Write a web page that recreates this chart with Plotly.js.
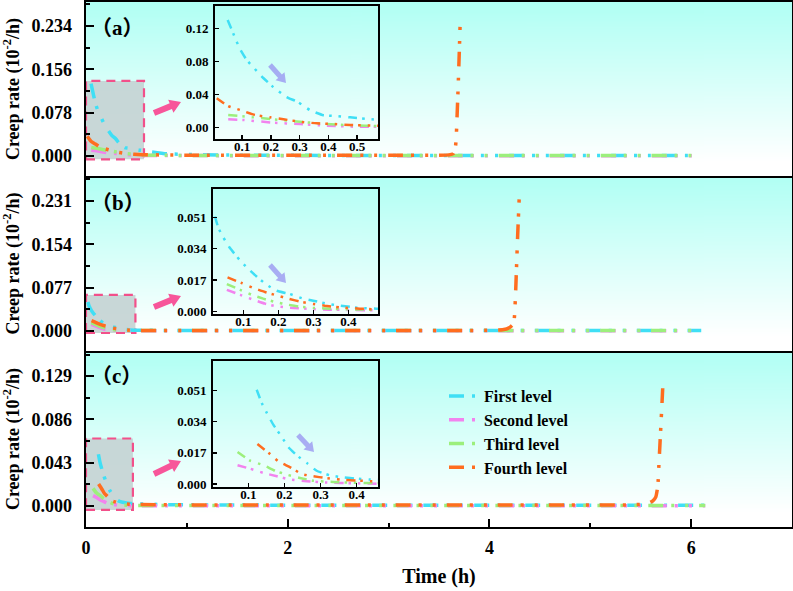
<!DOCTYPE html>
<html>
<head>
<meta charset="utf-8">
<script src="https://cdn.plot.ly/plotly-3.0.1.min.js"></script>
<style>
  html, body { margin: 0; padding: 0; background: #fff; }
  #chart { width: 793px; height: 591px; }
</style>
</head>
<body>
<div id="chart"></div>
<script>
// ---------------- Creep-rate data (time in h, rate in 10^-2/h) ----------------
const levelNames = ['First level', 'Second level', 'Third level', 'Fourth level'];

// Panel (a)
const timeA1 = [0.050, 0.073, 0.090, 0.116, 0.174, 0.209, 0.255, 0.294, 0.337, 0.383, 0.429, 0.476, 0.534, 0.8, 1.5, 2.5, 3.5, 4.5, 5.5, 6.06];
const rateA1 = [0.130, 0.111, 0.097, 0.082, 0.060, 0.049, 0.037, 0.031, 0.021, 0.015, 0.014, 0.0125, 0.0105, 0.004, 0.0015, 0.001, 0.001, 0.001, 0.001, 0.001];
const timeA2 = [0.052, 0.104, 0.209, 0.302, 0.394, 0.487, 0.8, 1.5, 2.5, 3.5, 4.5, 5.5, 6.06];
const rateA2 = [0.0101, 0.0093, 0.0060, 0.0044, 0.0024, 0.0012, 0.0008, 0.0006, 0.0005, 0.0005, 0.0005, 0.0005, 0.0005];
const timeA3 = [0.052, 0.116, 0.209, 0.302, 0.394, 0.487, 0.568, 0.8, 1.5, 2.5, 3.5, 4.5, 5.5, 6.06];
const rateA3 = [0.0153, 0.0133, 0.0101, 0.0072, 0.0044, 0.0028, 0.0020, 0.0012, 0.0008, 0.0007, 0.0007, 0.0007, 0.0007, 0.0007];
const timeA4 = [0.012, 0.052, 0.093, 0.145, 0.197, 0.244, 0.302, 0.360, 0.418, 0.476, 0.556, 1.0, 2.0, 3.0, 3.5, 3.60, 3.64, 3.66, 3.67, 3.68, 3.69, 3.70, 3.71];
const rateA4 = [0.0355, 0.026, 0.0214, 0.0153, 0.0125, 0.0101, 0.0072, 0.0052, 0.0044, 0.0032, 0.0024, 0.0015, 0.0012, 0.0012, 0.0014, 0.002, 0.004, 0.012, 0.03, 0.075, 0.125, 0.18, 0.24];

// Panel (b)
const timeB1 = [0.019, 0.029, 0.043, 0.062, 0.089, 0.110, 0.138, 0.167, 0.195, 0.233, 0.267, 0.300, 0.338, 0.376, 0.433, 0.481, 0.8, 1.5, 2.5, 3.5, 4.5, 5.5, 6.10];
const rateB1 = [0.0514, 0.0451, 0.0400, 0.0343, 0.0280, 0.0238, 0.0189, 0.0144, 0.0112, 0.0094, 0.0072, 0.0058, 0.0042, 0.0031, 0.0019, 0.0015, 0.0010, 0.0008, 0.0007, 0.0007, 0.0007, 0.0007, 0.0007];
const timeB2 = [0.053, 0.091, 0.129, 0.162, 0.195, 0.243, 0.300, 0.347, 0.405, 0.481, 0.8, 1.5, 2.5, 3.5, 4.5, 5.5, 6.10];
const rateB2 = [0.0117, 0.0090, 0.0063, 0.0042, 0.0027, 0.0019, 0.0013, 0.0009, 0.0008, 0.0006, 0.0005, 0.0005, 0.0005, 0.0005, 0.0005, 0.0005, 0.0005];
const timeB3 = [0.053, 0.091, 0.124, 0.157, 0.191, 0.229, 0.262, 0.300, 0.347, 0.405, 0.481, 0.8, 1.5, 2.5, 3.5, 4.5, 5.5, 6.10];
const rateB3 = [0.0148, 0.0117, 0.0090, 0.0069, 0.0051, 0.0036, 0.0025, 0.0019, 0.0015, 0.0011, 0.0009, 0.0007, 0.0007, 0.0007, 0.0007, 0.0007, 0.0007, 0.0007];
const timeB4 = [0.055, 0.095, 0.129, 0.162, 0.195, 0.229, 0.267, 0.300, 0.333, 0.376, 0.433, 0.481, 1.0, 2.0, 3.0, 4.0, 4.13, 4.20, 4.24, 4.25, 4.26, 4.27, 4.28, 4.295];
const rateB4 = [0.0184, 0.0154, 0.0127, 0.0105, 0.0087, 0.0069, 0.0051, 0.0040, 0.0031, 0.0022, 0.0015, 0.0011, 0.0010, 0.0009, 0.0009, 0.0012, 0.002, 0.006, 0.013, 0.03, 0.07, 0.12, 0.17, 0.235];

// Panel (c)
const timeC1 = [0.123, 0.137, 0.151, 0.169, 0.193, 0.211, 0.234, 0.262, 0.289, 0.326, 0.363, 0.400, 0.437, 0.8, 1.5, 2.5, 3.5, 4.5, 5.5, 6.14];
const rateC1 = [0.0513, 0.0441, 0.0387, 0.0323, 0.0254, 0.0200, 0.0156, 0.0114, 0.0072, 0.0047, 0.0036, 0.0029, 0.0024, 0.0012, 0.0008, 0.0007, 0.0007, 0.0007, 0.0007, 0.0007];
const timeC2 = [0.070, 0.105, 0.142, 0.179, 0.216, 0.262, 0.317, 0.391, 0.456, 0.8, 1.5, 2.5, 3.5, 4.5, 5.5, 6.14];
const rateC2 = [0.0102, 0.0083, 0.0060, 0.0042, 0.0024, 0.0015, 0.0008, 0.0004, 0.0002, 0.0002, 0.0002, 0.0002, 0.0002, 0.0002, 0.0002, 0.0002];
const timeC3 = [0.070, 0.105, 0.142, 0.174, 0.206, 0.243, 0.280, 0.335, 0.391, 0.437, 0.8, 1.5, 2.5, 3.5, 4.5, 5.5, 6.14];
const rateC3 = [0.0174, 0.0127, 0.0102, 0.0072, 0.0051, 0.0033, 0.0018, 0.0011, 0.0007, 0.0005, 0.0004, 0.0004, 0.0004, 0.0004, 0.0004, 0.0004, 0.0004];
const timeC4 = [0.125, 0.160, 0.183, 0.216, 0.248, 0.280, 0.312, 0.354, 0.409, 0.437, 1.0, 2.0, 3.0, 4.0, 5.0, 5.40, 5.56, 5.62, 5.65, 5.67, 5.68, 5.69, 5.70, 5.71, 5.72];
const rateC4 = [0.0218, 0.0163, 0.0123, 0.0091, 0.0054, 0.0042, 0.0033, 0.0024, 0.0018, 0.0015, 0.0010, 0.0008, 0.0008, 0.0008, 0.0009, 0.0010, 0.002, 0.005, 0.009, 0.02, 0.04, 0.06, 0.08, 0.10, 0.121];

// Axis tick labels
const panelLetters = ['a', 'b', 'c'];
const mainTickStep = [0.078, 0.077, 0.043];
const insetYTickStep = [0.04, 0.017, 0.017];
const xTickStep = 2;

// ---------------- Styling ----------------
const colors = ['#3fdff5', '#f283ee', '#9cef7c', '#ff6d1f'];
const serif = '"Liberation Serif", "Times New Roman", "DejaVu Serif", serif';
const dashMain = '15px,8px,3px,11px,3px,11px';
const dashInset = '9px,5px,2.5px,7px,2.5px,7px';

// Page geometry (pixels)
const W = 793, H = 591, mL = 86, mR = 1, mT = 2, mB = 64;
const pw = W - mL - mR, ph = H - mT - mB;
const fx = px => (px - mL) / pw;
const fy = py => (H - mB - py) / ph;

// Panel bands (top/bottom in px) and y ranges
const panelPx = [[2, 176], [176, 351], [351, 527]];
const mainRanges = [[-0.036, 0.277], [-0.0356, 0.2755], [-0.021, 0.154]];
const insetPx = [[215, 378, 6, 139], [213, 378, 189, 314], [213, 378, 361.3, 487.3]];
const insetX = [[0.006, 0.573], [0.0134, 0.485], [0.002, 0.459]];
const insetY = [[-0.0137, 0.147], [-0.0014, 0.0663], [-0.0018, 0.0668]];
const insetYFmt = ['.2f', '.3f', '.3f'];
const zoomBox = [[0, 0.575, -0.006, 0.135], [0, 0.49, -0.0036, 0.064], [0, 0.465, -0.004, 0.067]];

const series = [
  [[timeA1, rateA1], [timeA2, rateA2], [timeA3, rateA3], [timeA4, rateA4]],
  [[timeB1, rateB1], [timeB2, rateB2], [timeB3, rateB3], [timeB4, rateB4]],
  [[timeC1, rateC1], [timeC2, rateC2], [timeC3, rateC3], [timeC4, rateC4]]
];

// Vertical cyan-to-white wash used behind each panel
function washURL() {
  const c = document.createElement('canvas');
  c.width = 4; c.height = 256;
  const g = c.getContext('2d');
  const grd = g.createLinearGradient(0, 0, 0, 256);
  grd.addColorStop(0, 'rgb(176,255,244)');
  grd.addColorStop(0.92, 'rgb(255,255,255)');
  grd.addColorStop(1, 'rgb(255,255,255)');
  g.fillStyle = grd;
  g.fillRect(0, 0, 4, 256);
  return c.toDataURL('image/png');
}

// Block arrow outline (pixel endpoints) as a paper-space SVG path
function arrowPath(x0, y0, x1, y1, shaftW, headW, headL) {
  const dx = x1 - x0, dy = y1 - y0, len = Math.hypot(dx, dy);
  const ux = dx / len, uy = dy / len, nx = -uy, ny = ux;
  const bx = x1 - ux * headL, by = y1 - uy * headL;
  const pts = [
    [x0 + nx * shaftW / 2, y0 + ny * shaftW / 2],
    [bx + nx * shaftW / 2, by + ny * shaftW / 2],
    [bx + nx * headW / 2, by + ny * headW / 2],
    [x1, y1],
    [bx - nx * headW / 2, by - ny * headW / 2],
    [bx - nx * shaftW / 2, by - ny * shaftW / 2],
    [x0 - nx * shaftW / 2, y0 - ny * shaftW / 2]
  ];
  return 'M' + pts.map(p => fx(p[0]).toFixed(5) + ',' + fy(p[1]).toFixed(5)).join(' L') + ' Z';
}

const tickFont = { family: serif, size: 18, color: '#000', weight: 'bold' };
const insetFont = { family: serif, size: 13, color: '#000', weight: 'bold' };
const cjkParen = s => '<span style="font-family:\'Noto Sans CJK SC\'">' + s + '</span>';

const traces = [];
const layout = {
  width: W, height: H,
  margin: { l: mL, r: mR, t: mT, b: mB },
  paper_bgcolor: '#fff',
  plot_bgcolor: 'rgba(0,0,0,0)',
  showlegend: true,
  legend: {
    x: fx(444), y: fy(379), xanchor: 'left', yanchor: 'top',
    bgcolor: 'rgba(0,0,0,0)', borderwidth: 0,
    font: { family: serif, size: 16, color: '#000', weight: 'bold' },
    itemwidth: 30, tracegroupgap: 0
  },
  shapes: [], annotations: [], images: []
};

const wash = washURL();

for (let p = 0; p < 3; p++) {
  const k = p + 1;            // main axes index
  const ki = p + 4;           // inset axes index
  const xs = k === 1 ? '' : String(k);
  const xi = String(ki);
  const dom = [fy(panelPx[p][1]), fy(panelPx[p][0])];

  // main panel traces
  series[p].forEach((s, j) => {
    traces.push({
      x: s[0], y: s[1], type: 'scatter', mode: 'lines',
      name: levelNames[j], showlegend: p === 0, legendrank: j + 1,
      xaxis: 'x' + xs, yaxis: 'y' + xs,
      line: { color: colors[j], width: 3.5, dash: dashMain, shape: 'spline', smoothing: 0.4 },
      hoverinfo: 'skip'
    });
  });
  // inset traces (same data, zoomed axes)
  series[p].forEach((s, j) => {
    traces.push({
      x: s[0], y: s[1], type: 'scatter', mode: 'lines',
      name: levelNames[j], showlegend: false,
      xaxis: 'x' + xi, yaxis: 'y' + xi,
      line: { color: colors[j], width: 2.5, dash: dashInset, shape: 'spline', smoothing: 0.4 },
      hoverinfo: 'skip'
    });
  });

  const bottom = p === 2;
  layout['xaxis' + xs] = {
    domain: [0, 1], anchor: 'y' + xs, range: [0, 7],
    tickmode: 'linear', tick0: 0, dtick: xTickStep,
    ticks: bottom ? 'inside' : '', ticklen: 8, tickwidth: 2, tickcolor: '#000',
    minor: bottom ? { dtick: xTickStep / 2, ticks: 'inside', ticklen: 4, tickwidth: 2, tickcolor: '#000' } : undefined,
    showticklabels: bottom, tickfont: tickFont, ticklabelstandoff: 3,
    showline: true, linewidth: 2.2, linecolor: '#000', mirror: p === 0,
    showgrid: false, zeroline: false, automargin: false,
    title: bottom ? { text: 'Time (h)', font: { family: serif, size: 20, color: '#000', weight: 'bold' }, standoff: 12 } : undefined
  };
  layout['yaxis' + xs] = {
    domain: dom, anchor: 'x' + xs, range: mainRanges[p],
    tickmode: 'linear', tick0: 0, dtick: mainTickStep[p], tickformat: '.3f',
    ticks: 'inside', ticklen: 8, tickwidth: 2, tickcolor: '#000',
    minor: { dtick: mainTickStep[p] / 2, ticks: 'inside', ticklen: 4, tickwidth: 2, tickcolor: '#000' },
    tickfont: tickFont, ticklabelstandoff: 8,
    showline: true, linewidth: 2.5, linecolor: '#000', mirror: true,
    showgrid: false, zeroline: false, automargin: false,
    title: { text: 'Creep rate (10<sup>-2</sup>/h)', font: { family: serif, size: 18, color: '#000', weight: 'bold' }, standoff: 12 }
  };

  // inset axes
  const ip = insetPx[p];
  layout['xaxis' + xi] = {
    domain: [fx(ip[0]), fx(ip[1])], anchor: 'y' + xi, range: insetX[p],
    tickmode: 'linear', tick0: 0, dtick: 0.1, tickformat: '.1f',
    ticks: 'inside', ticklen: 4, tickwidth: 1.5, tickcolor: '#000',
    tickfont: insetFont, ticklabelstandoff: -6,
    showline: true, linewidth: 2, linecolor: '#000', mirror: true,
    showgrid: false, zeroline: false, automargin: false
  };
  layout['yaxis' + xi] = {
    domain: [fy(ip[3]), fy(ip[2])], anchor: 'x' + xi, range: insetY[p],
    tickmode: 'linear', tick0: 0, dtick: insetYTickStep[p], tickformat: insetYFmt[p],
    ticks: 'inside', ticklen: 4, tickwidth: 1.5, tickcolor: '#000',
    tickfont: insetFont, ticklabelstandoff: 2,
    showline: true, linewidth: 2, linecolor: '#000', mirror: true,
    showgrid: false, zeroline: false, automargin: false
  };

  // background wash for the panel
  layout.images.push({
    source: wash, xref: 'paper', yref: 'paper',
    x: 0, y: dom[1], sizex: 1, sizey: dom[1] - dom[0],
    xanchor: 'left', yanchor: 'top', sizing: 'stretch', layer: 'below'
  });

  // zoom window on the main panel
  const zb = zoomBox[p];
  layout.shapes.push({
    type: 'rect', xref: 'x' + xs, yref: 'y' + xs,
    x0: zb[0], x1: zb[1], y0: zb[2], y1: zb[3],
    fillcolor: 'rgba(196,212,212,0.92)',
    line: { color: '#f2508a', width: 2.2, dash: '9px,6px' },
    layer: 'below'
  });

  // panel tag with full-width brackets
  layout.annotations.push({
    xref: 'paper', yref: 'paper', x: fx(89), y: fy([26, 201, 374][p]),
    xanchor: 'left', yanchor: 'middle', showarrow: false,
    text: cjkParen('（') + panelLetters[p] + cjkParen('）'),
    font: { family: serif, size: 21, color: '#000', weight: 'bold' }
  });
}

// pink block arrows from zoom windows to insets
[[154, 113, 181, 102], [154, 307, 181, 296], [154, 474, 181, 461]].forEach(a => {
  layout.shapes.push({
    type: 'path', xref: 'paper', yref: 'paper', layer: 'above',
    path: arrowPath(a[0], a[1], a[2], a[3], 6, 14, 11),
    fillcolor: '#f7569a', line: { width: 0 }
  });
});
// trend arrows inside the insets
[[270, 65, 286, 83], [270, 265, 286, 283], [298, 435, 314, 452]].forEach(a => {
  layout.shapes.push({
    type: 'path', xref: 'paper', yref: 'paper', layer: 'above',
    path: arrowPath(a[0], a[1], a[2], a[3], 5, 12, 9),
    fillcolor: 'rgba(150,145,240,0.75)', line: { width: 0 }
  });
});

Plotly.newPlot('chart', traces, layout, { staticPlot: true, displayModeBar: false });
</script>
</body>
</html>
